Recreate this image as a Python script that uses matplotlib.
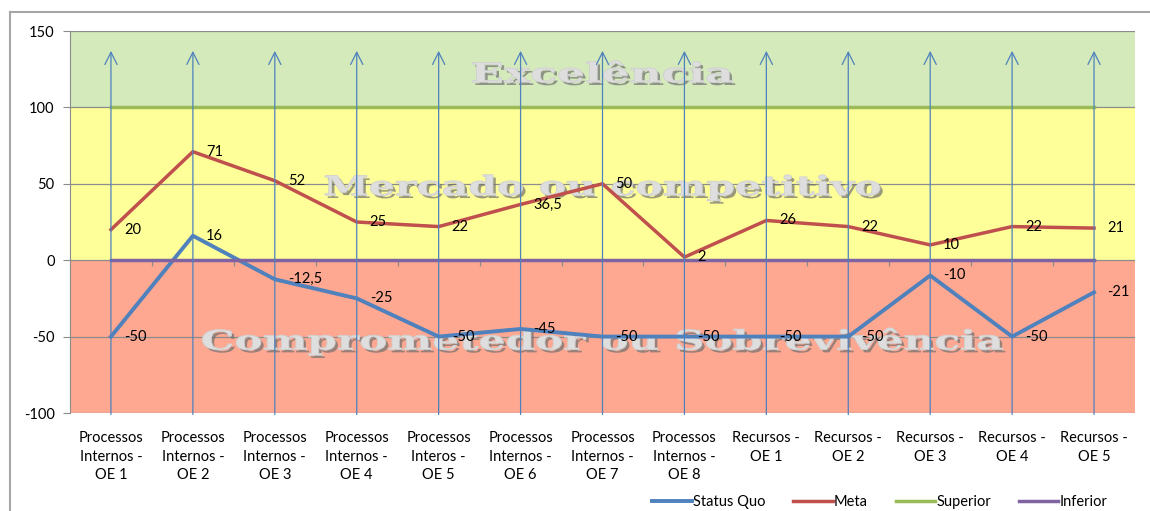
import numpy as np
import matplotlib
matplotlib.use('Agg')
import matplotlib.pyplot as plt
from matplotlib.textpath import TextPath
from matplotlib.patches import PathPatch
from matplotlib.font_manager import FontProperties
from matplotlib.transforms import Affine2D
from matplotlib.lines import Line2D
import matplotlib.patheffects as pe

# dados
categorias = ['Processos\nInternos -\nOE 1', 'Processos\nInternos -\nOE 2', 'Processos\nInternos -\nOE 3',
              'Processos\nInternos -\nOE 4', 'Processos\nInteros -\nOE 5', 'Processos\nInternos -\nOE 6',
              'Processos\nInternos -\nOE 7', 'Processos\nInternos -\nOE 8', 'Recursos -\nOE 1',
              'Recursos -\nOE 2', 'Recursos -\nOE 3', 'Recursos -\nOE 4', 'Recursos -\nOE 5']
status_quo = [-50, 16, -12.5, -25, -50, -45, -50, -50, -50, -50, -10, -50, -21]
meta       = [20, 71, 52, 25, 22, 36.5, 50, 2, 26, 22, 10, 22, 21]
superior   = [100] * 13
inferior   = [0] * 13
y_ticks    = [-100, -50, 0, 50, 100, 150]
faixas     = [(100, 150, '#d4eabb'), (0, 100, '#ffff99'), (-100, 0, '#fea892')]
marcas     = [('Excelência', 116.5, 260), ('Mercado ou competitivo', 42.5, 555),
              ('Comprometedor ou Sobrevivência', -58.5, 800)]

plt.rcParams['font.family'] = ['Lato', 'DejaVu Sans']
plt.rcParams['font.size'] = 10.5
plt.rcParams['axes.unicode_minus'] = False

W, H = 1150, 511
fig = plt.figure(figsize=(W / 100, H / 100), dpi=100)
x0, x1, y0, y1 = 70, 1135, 31, 413
ax = fig.add_axes([x0 / W, 1 - y1 / H, (x1 - x0) / W, (y1 - y0) / H])

x = np.arange(len(categorias))
ax.set_xlim(-0.5, len(categorias) - 0.5)
ax.set_ylim(-100, 150)
px_x = (x1 - x0) / len(categorias)
px_y = (y1 - y0) / 250

for lo, hi, c in faixas:
    ax.axhspan(lo, hi, color=c, lw=0, zorder=0)
for t in y_ticks:
    ax.axhline(t, color='#8c8c8c', lw=0.9, zorder=1)
# marcas de divisao no eixo 0
ax.vlines(x[:-1] + 0.5, -3.5, 0, color='#8c8c8c', lw=0.9, zorder=1)

# textos de fundo
fp = FontProperties(family='DejaVu Serif', weight='bold')
for txt, base, wpx in marcas:
    tp = TextPath((0, 0), txt, size=100, prop=fp)
    ext = tp.get_extents()
    tr = (Affine2D().translate(-(ext.x0 + ext.width / 2), 0)
          .scale(wpx / ext.width / px_x, 27 / 100 / px_y)
          .translate(6, base))
    p = PathPatch(tr.transform_path(tp), fc='#dedede', ec='#d0d0d0', lw=0.6, zorder=2)
    p.set_path_effects([pe.SimplePatchShadow(offset=(2, -2), shadow_rgbFace='#6f6f6f', alpha=0.7),
                        pe.Normal()])
    ax.add_patch(p)

ax.plot(x, status_quo, color='#4f81bd', lw=2.8, label='Status Quo', zorder=4)
ax.plot(x, meta, color='#c0504d', lw=2.5, label='Meta', zorder=4)
ax.plot(x, superior, color='#9bbb59', lw=2.5, label='Superior', zorder=4)
ax.plot(x, inferior, color='#8064a2', lw=2.5, label='Inferior', zorder=4)

def rotulo(v):
    return ('%g' % v).replace('.', ',')

for serie in (status_quo, meta):
    for xi, v in zip(x, serie):
        ax.annotate(rotulo(v), (xi, v), xytext=(13, 0), textcoords='offset pixels',
                    ha='left', va='center', zorder=6)

# setas verticais
for xi in x:
    ax.annotate('', xy=(xi, 137), xytext=(xi, -101),
                arrowprops=dict(arrowstyle='->', color='#4f81bd', lw=0.9,
                                shrinkA=0, shrinkB=0, mutation_scale=22),
                zorder=5, annotation_clip=False)

ax.set_yticks(y_ticks)
ax.set_xticks(x)
ax.set_xticklabels(categorias, linespacing=1.42)
ax.tick_params(axis='x', length=0, pad=13)
ax.tick_params(axis='y', length=5, color='#8c8c8c', pad=6)
for s in ['top', 'right', 'bottom']:
    ax.spines[s].set_visible(False)
ax.spines['left'].set_color('#8c8c8c')

fig.legend(loc='center', bbox_to_anchor=(880 / W, 9 / H), ncol=4, frameon=False,
           handlelength=2.7, handletextpad=0.1, columnspacing=1.9)

# borda do grafico
fig.add_artist(Line2D([10 / W, 1], [1 - 12 / H] * 2, transform=fig.transFigure, color='#a6a6a6', lw=1.5))
fig.add_artist(Line2D([10 / W] * 2, [0, 1 - 12 / H], transform=fig.transFigure, color='#a6a6a6', lw=1.5))

fig.savefig('out.png', dpi=100)
